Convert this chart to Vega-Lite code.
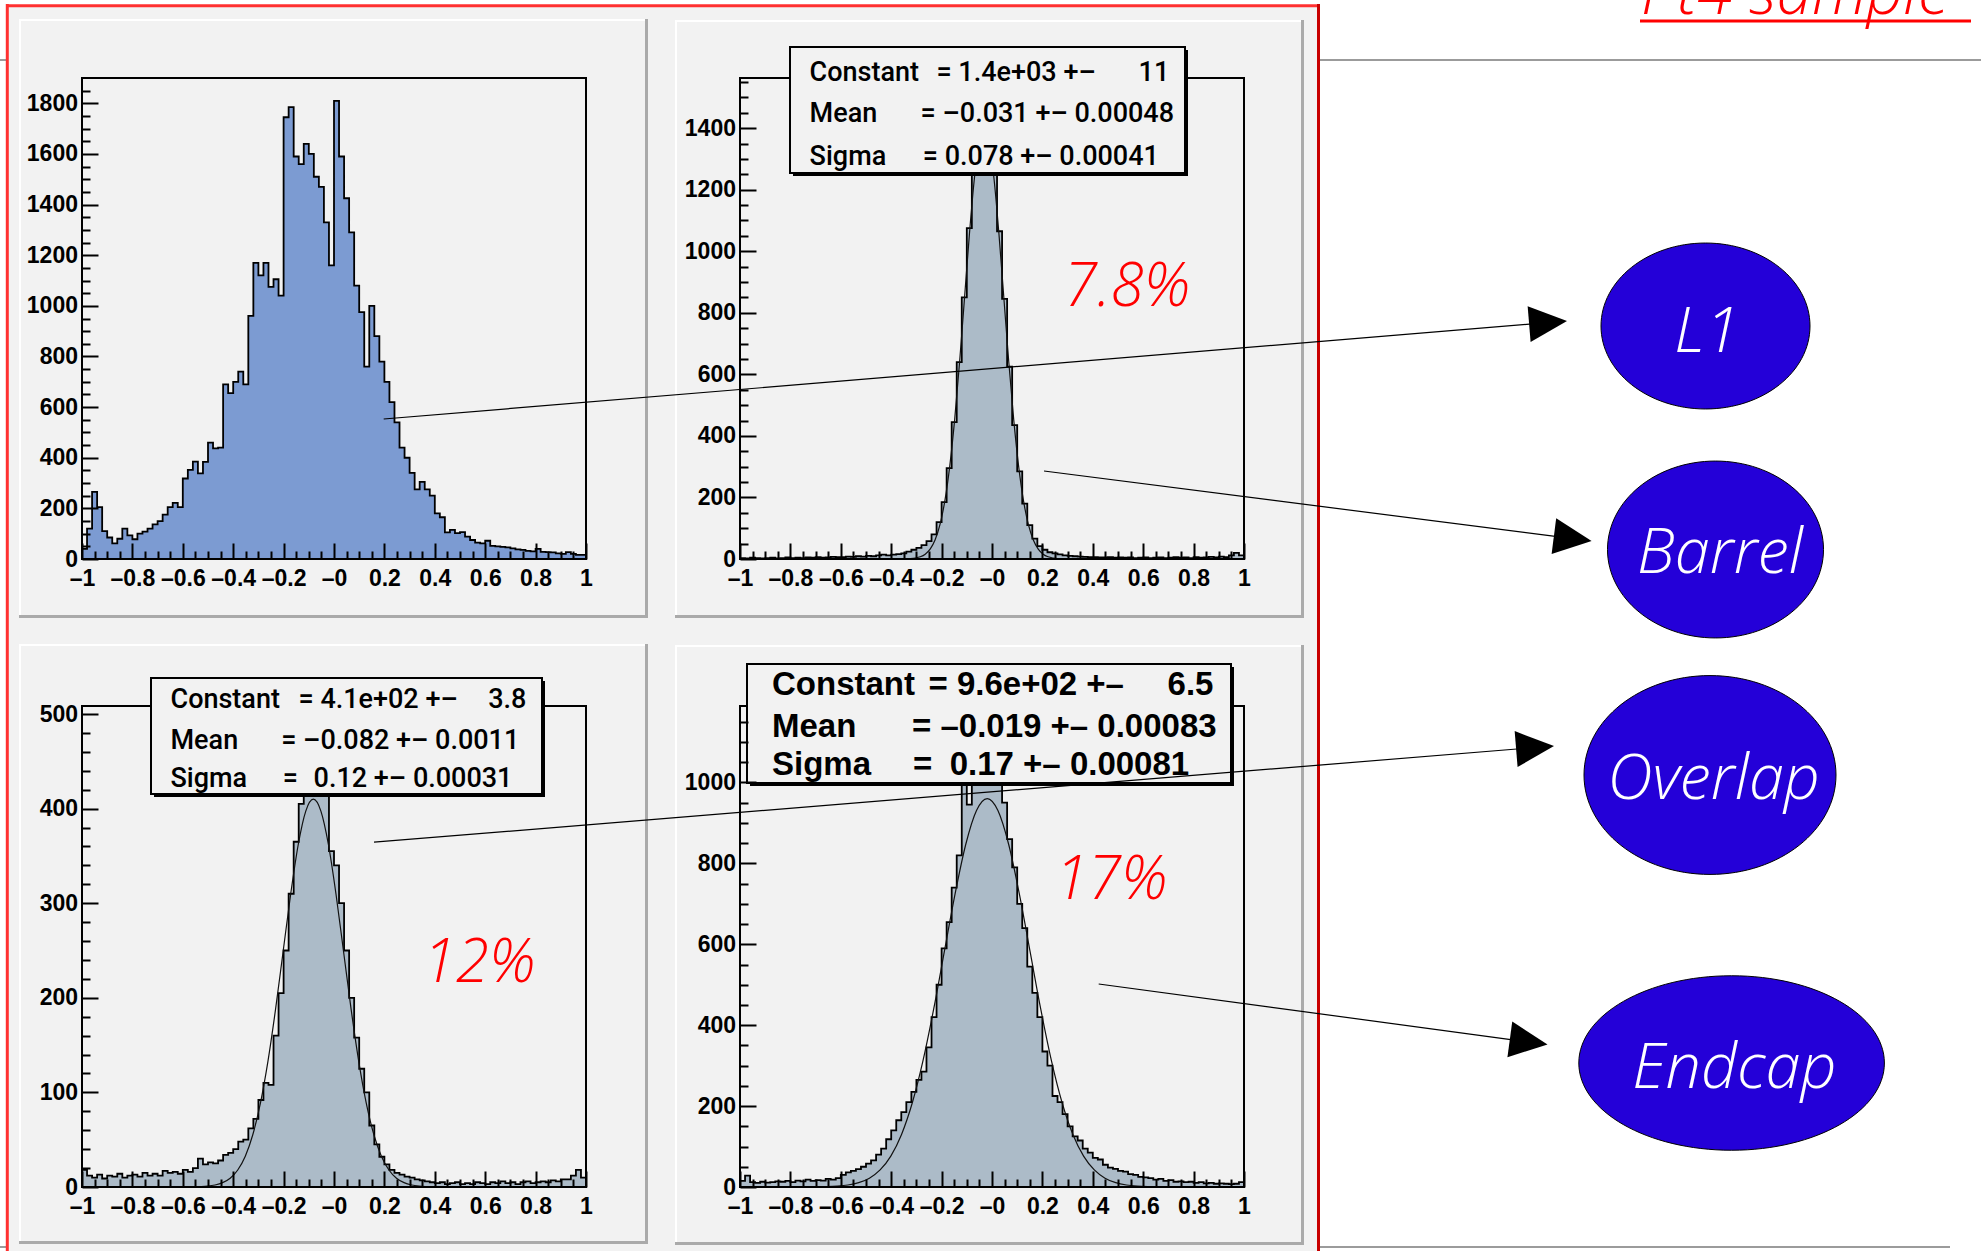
{
"$schema": "https://vega.github.io/schema/vega-lite/v6.json",
"background": "white",
"padding": {"left": -50, "top": -60, "right": 0, "bottom": 0},
"columns": 2,
"spacing": {"row": 147, "column": 154},
"bounds": "flush",
"config": {
  "view": {"stroke": null},
  "axis": {"domain": false, "grid": false, "labelFont": "Liberation Sans", "labelFontSize": 23, "labelFontWeight": "bold", "labelColor": "#000000", "tickColor": "#000000", "tickWidth": 2, "labelOverlap": false, "labelBound": false, "labelFlush": false, "zindex": 1}
},
"datasets": {
  "hTL": [{"x":-1,"y":40},{"x":-0.98,"y":120},{"x":-0.96,"y":265},{"x":-0.94,"y":205},{"x":-0.92,"y":110},{"x":-0.9,"y":85},{"x":-0.88,"y":62},{"x":-0.86,"y":80},{"x":-0.84,"y":120},{"x":-0.82,"y":93},{"x":-0.8,"y":78},{"x":-0.78,"y":100},{"x":-0.76,"y":108},{"x":-0.74,"y":120},{"x":-0.72,"y":137},{"x":-0.7,"y":150},{"x":-0.68,"y":175},{"x":-0.66,"y":205},{"x":-0.64,"y":222},{"x":-0.62,"y":205},{"x":-0.6,"y":318},{"x":-0.58,"y":352},{"x":-0.56,"y":385},{"x":-0.54,"y":338},{"x":-0.52,"y":384},{"x":-0.5,"y":460},{"x":-0.48,"y":437},{"x":-0.46,"y":440},{"x":-0.44,"y":690},{"x":-0.42,"y":655},{"x":-0.4,"y":700},{"x":-0.38,"y":740},{"x":-0.36,"y":690},{"x":-0.34,"y":960},{"x":-0.32,"y":1170},{"x":-0.3,"y":1120},{"x":-0.28,"y":1170},{"x":-0.26,"y":1075},{"x":-0.24,"y":1105},{"x":-0.22,"y":1040},{"x":-0.2,"y":1745},{"x":-0.18,"y":1785},{"x":-0.16,"y":1590},{"x":-0.14,"y":1560},{"x":-0.12,"y":1640},{"x":-0.1,"y":1600},{"x":-0.08,"y":1510},{"x":-0.06,"y":1470},{"x":-0.04,"y":1330},{"x":-0.02,"y":1160},{"x":0,"y":1810},{"x":0.02,"y":1590},{"x":0.04,"y":1425},{"x":0.06,"y":1290},{"x":0.08,"y":1080},{"x":0.1,"y":975},{"x":0.12,"y":760},{"x":0.14,"y":1000},{"x":0.16,"y":880},{"x":0.18,"y":780},{"x":0.2,"y":700},{"x":0.22,"y":620},{"x":0.24,"y":540},{"x":0.26,"y":440},{"x":0.28,"y":400},{"x":0.3,"y":340},{"x":0.32,"y":275},{"x":0.34,"y":305},{"x":0.36,"y":275},{"x":0.38,"y":250},{"x":0.4,"y":180},{"x":0.42,"y":165},{"x":0.44,"y":105},{"x":0.46,"y":115},{"x":0.48,"y":102},{"x":0.5,"y":106},{"x":0.52,"y":88},{"x":0.54,"y":75},{"x":0.56,"y":65},{"x":0.58,"y":62},{"x":0.6,"y":72},{"x":0.62,"y":52},{"x":0.64,"y":50},{"x":0.66,"y":48},{"x":0.68,"y":46},{"x":0.7,"y":42},{"x":0.72,"y":38},{"x":0.74,"y":36},{"x":0.76,"y":32},{"x":0.78,"y":30},{"x":0.8,"y":40},{"x":0.82,"y":28},{"x":0.84,"y":27},{"x":0.86,"y":26},{"x":0.88,"y":22},{"x":0.9,"y":20},{"x":0.92,"y":27},{"x":0.94,"y":20},{"x":0.96,"y":16},{"x":0.98,"y":16},{"x":1,"y":16}],
  "hTR": [{"x":-1,"y":3},{"x":-0.98,"y":2},{"x":-0.96,"y":4},{"x":-0.94,"y":3},{"x":-0.92,"y":2},{"x":-0.9,"y":3},{"x":-0.88,"y":4},{"x":-0.86,"y":2},{"x":-0.84,"y":3},{"x":-0.82,"y":5},{"x":-0.8,"y":3},{"x":-0.78,"y":4},{"x":-0.76,"y":3},{"x":-0.74,"y":5},{"x":-0.72,"y":4},{"x":-0.7,"y":6},{"x":-0.68,"y":4},{"x":-0.66,"y":5},{"x":-0.64,"y":7},{"x":-0.62,"y":6},{"x":-0.6,"y":6},{"x":-0.58,"y":8},{"x":-0.56,"y":7},{"x":-0.54,"y":9},{"x":-0.52,"y":8},{"x":-0.5,"y":10},{"x":-0.48,"y":9},{"x":-0.46,"y":12},{"x":-0.44,"y":14},{"x":-0.42,"y":12},{"x":-0.4,"y":14},{"x":-0.38,"y":16},{"x":-0.36,"y":18},{"x":-0.34,"y":24},{"x":-0.32,"y":30},{"x":-0.3,"y":36},{"x":-0.28,"y":45},{"x":-0.26,"y":58},{"x":-0.24,"y":80},{"x":-0.22,"y":120},{"x":-0.2,"y":185},{"x":-0.18,"y":295},{"x":-0.16,"y":445},{"x":-0.14,"y":640},{"x":-0.12,"y":850},{"x":-0.1,"y":1075},{"x":-0.08,"y":1280},{"x":-0.06,"y":1420},{"x":-0.04,"y":1490},{"x":-0.02,"y":1435},{"x":0,"y":1275},{"x":0.02,"y":1065},{"x":0.04,"y":845},{"x":0.06,"y":625},{"x":0.08,"y":435},{"x":0.1,"y":285},{"x":0.12,"y":180},{"x":0.14,"y":110},{"x":0.16,"y":66},{"x":0.18,"y":42},{"x":0.2,"y":30},{"x":0.22,"y":22},{"x":0.24,"y":18},{"x":0.26,"y":15},{"x":0.28,"y":12},{"x":0.3,"y":10},{"x":0.32,"y":9},{"x":0.34,"y":8},{"x":0.36,"y":7},{"x":0.38,"y":6},{"x":0.4,"y":6},{"x":0.42,"y":5},{"x":0.44,"y":5},{"x":0.46,"y":6},{"x":0.48,"y":4},{"x":0.5,"y":5},{"x":0.52,"y":4},{"x":0.54,"y":5},{"x":0.56,"y":3},{"x":0.58,"y":4},{"x":0.6,"y":5},{"x":0.62,"y":3},{"x":0.64,"y":4},{"x":0.66,"y":5},{"x":0.68,"y":3},{"x":0.7,"y":4},{"x":0.72,"y":6},{"x":0.74,"y":4},{"x":0.76,"y":5},{"x":0.78,"y":3},{"x":0.8,"y":6},{"x":0.82,"y":4},{"x":0.84,"y":5},{"x":0.86,"y":7},{"x":0.88,"y":5},{"x":0.9,"y":8},{"x":0.92,"y":6},{"x":0.94,"y":12},{"x":0.96,"y":20},{"x":0.98,"y":12},{"x":1,"y":12}],
  "hBL": [{"x":-1,"y":18},{"x":-0.98,"y":12},{"x":-0.96,"y":10},{"x":-0.94,"y":13},{"x":-0.92,"y":9},{"x":-0.9,"y":12},{"x":-0.88,"y":11},{"x":-0.86,"y":14},{"x":-0.84,"y":10},{"x":-0.82,"y":12},{"x":-0.8,"y":13},{"x":-0.78,"y":11},{"x":-0.76,"y":15},{"x":-0.74,"y":12},{"x":-0.72,"y":14},{"x":-0.7,"y":12},{"x":-0.68,"y":17},{"x":-0.66,"y":15},{"x":-0.64,"y":16},{"x":-0.62,"y":14},{"x":-0.6,"y":18},{"x":-0.58,"y":16},{"x":-0.56,"y":20},{"x":-0.54,"y":30},{"x":-0.52,"y":24},{"x":-0.5,"y":26},{"x":-0.48,"y":25},{"x":-0.46,"y":28},{"x":-0.44,"y":34},{"x":-0.42,"y":36},{"x":-0.4,"y":40},{"x":-0.38,"y":48},{"x":-0.36,"y":50},{"x":-0.34,"y":62},{"x":-0.32,"y":72},{"x":-0.3,"y":92},{"x":-0.28,"y":110},{"x":-0.26,"y":108},{"x":-0.24,"y":160},{"x":-0.22,"y":205},{"x":-0.2,"y":250},{"x":-0.18,"y":310},{"x":-0.16,"y":365},{"x":-0.14,"y":405},{"x":-0.12,"y":440},{"x":-0.1,"y":470},{"x":-0.08,"y":484},{"x":-0.06,"y":460},{"x":-0.04,"y":415},{"x":-0.02,"y":355},{"x":0,"y":340},{"x":0.02,"y":300},{"x":0.04,"y":250},{"x":0.06,"y":200},{"x":0.08,"y":158},{"x":0.1,"y":125},{"x":0.12,"y":100},{"x":0.14,"y":65},{"x":0.16,"y":45},{"x":0.18,"y":32},{"x":0.2,"y":24},{"x":0.22,"y":18},{"x":0.24,"y":15},{"x":0.26,"y":13},{"x":0.28,"y":11},{"x":0.3,"y":10},{"x":0.32,"y":8},{"x":0.34,"y":7},{"x":0.36,"y":6},{"x":0.38,"y":5},{"x":0.4,"y":4},{"x":0.42,"y":5},{"x":0.44,"y":3},{"x":0.46,"y":4},{"x":0.48,"y":5},{"x":0.5,"y":3},{"x":0.52,"y":4},{"x":0.54,"y":3},{"x":0.56,"y":5},{"x":0.58,"y":4},{"x":0.6,"y":3},{"x":0.62,"y":5},{"x":0.64,"y":4},{"x":0.66,"y":6},{"x":0.68,"y":4},{"x":0.7,"y":5},{"x":0.72,"y":3},{"x":0.74,"y":5},{"x":0.76,"y":6},{"x":0.78,"y":4},{"x":0.8,"y":5},{"x":0.82,"y":6},{"x":0.84,"y":5},{"x":0.86,"y":7},{"x":0.88,"y":6},{"x":0.9,"y":8},{"x":0.92,"y":8},{"x":0.94,"y":12},{"x":0.96,"y":18},{"x":0.98,"y":10},{"x":1,"y":10}],
  "hBR": [{"x":-1,"y":15},{"x":-0.98,"y":28},{"x":-0.96,"y":12},{"x":-0.94,"y":10},{"x":-0.92,"y":13},{"x":-0.9,"y":11},{"x":-0.88,"y":12},{"x":-0.86,"y":14},{"x":-0.84,"y":13},{"x":-0.82,"y":15},{"x":-0.8,"y":12},{"x":-0.78,"y":16},{"x":-0.76,"y":14},{"x":-0.74,"y":18},{"x":-0.72,"y":15},{"x":-0.7,"y":17},{"x":-0.68,"y":16},{"x":-0.66,"y":20},{"x":-0.64,"y":18},{"x":-0.62,"y":22},{"x":-0.6,"y":30},{"x":-0.58,"y":36},{"x":-0.56,"y":40},{"x":-0.54,"y":44},{"x":-0.52,"y":50},{"x":-0.5,"y":58},{"x":-0.48,"y":66},{"x":-0.46,"y":80},{"x":-0.44,"y":95},{"x":-0.42,"y":118},{"x":-0.4,"y":140},{"x":-0.38,"y":165},{"x":-0.36,"y":185},{"x":-0.34,"y":210},{"x":-0.32,"y":235},{"x":-0.3,"y":265},{"x":-0.28,"y":285},{"x":-0.26,"y":345},{"x":-0.24,"y":420},{"x":-0.22,"y":500},{"x":-0.2,"y":590},{"x":-0.18,"y":655},{"x":-0.16,"y":740},{"x":-0.14,"y":820},{"x":-0.12,"y":1060},{"x":-0.1,"y":945},{"x":-0.08,"y":1125},{"x":-0.06,"y":1115},{"x":-0.04,"y":1132},{"x":-0.02,"y":1120},{"x":0,"y":1128},{"x":0.02,"y":1080},{"x":0.04,"y":950},{"x":0.06,"y":860},{"x":0.08,"y":790},{"x":0.1,"y":700},{"x":0.12,"y":640},{"x":0.14,"y":545},{"x":0.16,"y":480},{"x":0.18,"y":420},{"x":0.2,"y":335},{"x":0.22,"y":300},{"x":0.24,"y":225},{"x":0.26,"y":210},{"x":0.28,"y":180},{"x":0.3,"y":150},{"x":0.32,"y":125},{"x":0.34,"y":115},{"x":0.36,"y":95},{"x":0.38,"y":85},{"x":0.4,"y":72},{"x":0.42,"y":68},{"x":0.44,"y":55},{"x":0.46,"y":48},{"x":0.48,"y":45},{"x":0.5,"y":40},{"x":0.52,"y":38},{"x":0.54,"y":32},{"x":0.56,"y":30},{"x":0.58,"y":25},{"x":0.6,"y":24},{"x":0.62,"y":22},{"x":0.64,"y":18},{"x":0.66,"y":20},{"x":0.68,"y":15},{"x":0.7,"y":17},{"x":0.72,"y":13},{"x":0.74,"y":14},{"x":0.76,"y":12},{"x":0.78,"y":13},{"x":0.8,"y":10},{"x":0.82,"y":12},{"x":0.84,"y":9},{"x":0.86,"y":10},{"x":0.88,"y":8},{"x":0.9,"y":9},{"x":0.92,"y":8},{"x":0.94,"y":7},{"x":0.96,"y":8},{"x":0.98,"y":12},{"x":1,"y":12}],
  "fTR": [{"x":-0.343,"y":0.5},{"x":-0.3235,"y":1.2},{"x":-0.304,"y":3.1},{"x":-0.2845,"y":7.1},{"x":-0.265,"y":15.6},{"x":-0.2455,"y":31.9},{"x":-0.226,"y":61.5},{"x":-0.2065,"y":111.4},{"x":-0.187,"y":189.5},{"x":-0.1675,"y":302.8},{"x":-0.148,"y":454.5},{"x":-0.1285,"y":641},{"x":-0.109,"y":849.1},{"x":-0.0895,"y":1056.8},{"x":-0.07,"y":1235.5},{"x":-0.0505,"y":1356.9},{"x":-0.031,"y":1400},{"x":-0.0115,"y":1356.9},{"x":0.008,"y":1235.5},{"x":0.0275,"y":1056.8},{"x":0.047,"y":849.1},{"x":0.0665,"y":641},{"x":0.086,"y":454.5},{"x":0.1055,"y":302.8},{"x":0.125,"y":189.5},{"x":0.1445,"y":111.4},{"x":0.164,"y":61.5},{"x":0.1835,"y":31.9},{"x":0.203,"y":15.6},{"x":0.2225,"y":7.1},{"x":0.242,"y":3.1},{"x":0.2615,"y":1.2},{"x":0.281,"y":0.5}],
  "fBL": [{"x":-0.562,"y":0.1},{"x":-0.532,"y":0.4},{"x":-0.502,"y":0.9},{"x":-0.472,"y":2.1},{"x":-0.442,"y":4.6},{"x":-0.412,"y":9.3},{"x":-0.382,"y":18},{"x":-0.352,"y":32.6},{"x":-0.322,"y":55.5},{"x":-0.292,"y":88.7},{"x":-0.262,"y":133.1},{"x":-0.232,"y":187.7},{"x":-0.202,"y":248.7},{"x":-0.172,"y":309.5},{"x":-0.142,"y":361.8},{"x":-0.112,"y":397.4},{"x":-0.082,"y":410},{"x":-0.052,"y":397.4},{"x":-0.022,"y":361.8},{"x":0.008,"y":309.5},{"x":0.038,"y":248.7},{"x":0.068,"y":187.7},{"x":0.098,"y":133.1},{"x":0.128,"y":88.7},{"x":0.158,"y":55.5},{"x":0.188,"y":32.6},{"x":0.218,"y":18},{"x":0.248,"y":9.3},{"x":0.278,"y":4.6},{"x":0.308,"y":2.1},{"x":0.338,"y":0.9},{"x":0.368,"y":0.4},{"x":0.398,"y":0.1}],
  "fBR": [{"x":-0.699,"y":0.3},{"x":-0.6565,"y":0.8},{"x":-0.614,"y":2.1},{"x":-0.5715,"y":4.9},{"x":-0.529,"y":10.7},{"x":-0.4865,"y":21.9},{"x":-0.444,"y":42.2},{"x":-0.4015,"y":76.4},{"x":-0.359,"y":129.9},{"x":-0.3165,"y":207.6},{"x":-0.274,"y":311.7},{"x":-0.2315,"y":439.5},{"x":-0.189,"y":582.3},{"x":-0.1465,"y":724.6},{"x":-0.104,"y":847.2},{"x":-0.0615,"y":930.5},{"x":-0.019,"y":960},{"x":0.0235,"y":930.5},{"x":0.066,"y":847.2},{"x":0.1085,"y":724.6},{"x":0.151,"y":582.3},{"x":0.1935,"y":439.5},{"x":0.236,"y":311.7},{"x":0.2785,"y":207.6},{"x":0.321,"y":129.9},{"x":0.3635,"y":76.4},{"x":0.406,"y":42.2},{"x":0.4485,"y":21.9},{"x":0.491,"y":10.7},{"x":0.5335,"y":4.9},{"x":0.576,"y":2.1},{"x":0.6185,"y":0.8},{"x":0.661,"y":0.3}]
},
"concat": [
{
  "width": 504, "height": 481,
  "encoding": {
    "x": {"field": "x", "type": "quantitative", "scale": {"domain": [-1, 1], "nice": false, "zero": false},
      "axis": {"title": null, "zindex": 2, "values": [-1,-0.95,-0.9,-0.85,-0.8,-0.75,-0.7,-0.65,-0.6,-0.55,-0.5,-0.45,-0.4,-0.35,-0.3,-0.25,-0.2,-0.15,-0.1,-0.05,0,0.05,0.1,0.15,0.2,0.25,0.3,0.35,0.4,0.45,0.5,0.55,0.6,0.65,0.7,0.75,0.8,0.85,0.9,0.95,1],
        "tickSize": {"condition": {"test": "abs(datum.value*5-round(datum.value*5))<0.001", "value": -16}, "value": -8},
        "labelExpr": "abs(datum.value*5-round(datum.value*5))<0.001 ? (abs(datum.value)<0.001 ? '–0' : (datum.value<0 ? '–'+format(-datum.value,'~g') : format(datum.value,'~g'))) : ''",
        "labelPadding": 24, "labelBaseline": "top"}},
    "y": {"field": "y", "type": "quantitative", "scale": {"domain": [0, 1900], "nice": false, "zero": false},
      "axis": {"title": null, "zindex": 2, "values": [0,50,100,150,200,250,300,350,400,450,500,550,600,650,700,750,800,850,900,950,1000,1050,1100,1150,1200,1250,1300,1350,1400,1450,1500,1550,1600,1650,1700,1750,1800,1850],
        "tickSize": {"condition": {"test": "datum.value % 200 == 0", "value": -16}, "value": -8},
        "labelExpr": "datum.value % 200 == 0 ? format(datum.value,'d') : ''", "labelPadding": 20.5}}
  },
  "layer": [
    {"data": {"values": [{"x": -1.5238, "x2": -1.52, "y": 2445.08, "y2": 2440}]}, "mark": {"type": "rect", "opacity": 0}, "encoding": {"x2": {"field": "x2"}, "y2": {"field": "y2"}}},
    {"data": {"values": [{"x": -1.325397, "x2": 6.535714, "y": 1971.1, "y2": 1971.1}, {"x": -1.325397, "x2": 6.412698, "y": -2717.67, "y2": -2717.67}]}, "mark": {"type": "rule", "color": "#7a7a7a", "strokeWidth": 1.5}, "encoding": {"x2": {"field": "x2"}, "y2": {"field": "y2"}}},
    {"data": {"values": [{"x": -1.301587, "x2": 3.90873, "y": 2188.36, "y2": -2753.22}]}, "mark": {"type": "rect", "color": "#f2f2f2", "opacity": 1}, "encoding": {"x2": {"field": "x2"}, "y2": {"field": "y2"}}},
    {"data": {"values": [{"x": -1.296429, "x2": -1.296429, "y": 2192.31, "y2": -2753.22}, {"x": -1.301587, "x2": 3.912698, "y": 2185.2, "y2": 2185.2}]}, "mark": {"type": "rule", "color": "#ff3030", "strokeWidth": 3}, "encoding": {"x2": {"field": "x2"}, "y2": {"field": "y2"}}},
    {"data": {"values": [{"x": 3.906746, "x2": 3.906746, "y": 2192.31, "y2": -2753.22}]}, "mark": {"type": "rule", "color": "#c80000", "strokeWidth": 3}, "encoding": {"x2": {"field": "x2"}, "y2": {"field": "y2"}}},
    {"data": {"values": [{"x": -1.25, "x2": 1.246032, "y": 2133.06, "y2": -233.06}]}, "mark": {"type": "rect", "color": "#aaaaaa", "opacity": 1}, "encoding": {"x2": {"field": "x2"}, "y2": {"field": "y2"}}},
    {"data": {"values": [{"x": -1.25, "x2": 1.234127, "y": 2133.06, "y2": -221.21}]}, "mark": {"type": "rect", "color": "#ffffff", "opacity": 1}, "encoding": {"x2": {"field": "x2"}, "y2": {"field": "y2"}}},
    {"data": {"values": [{"x": -1.242063, "x2": 1.234127, "y": 2125.16, "y2": -221.21}]}, "mark": {"type": "rect", "color": "#f2f2f2", "opacity": 1}, "encoding": {"x2": {"field": "x2"}, "y2": {"field": "y2"}}},
    {"data": {"name": "hTL"}, "mark": {"type": "area", "interpolate": "step-after", "color": "#7c9bd2", "opacity": 1}},
    {"data": {"name": "hTL"}, "mark": {"type": "line", "interpolate": "step-after", "color": "#000000", "strokeWidth": 1.8}},
    {"data": {"values": [{"x": -1, "x2": 1, "y": 0, "y2": 1900}]}, "mark": {"type": "rect", "fill": null, "stroke": "#000000", "strokeWidth": 2}, "encoding": {"x2": {"field": "x2"}, "y2": {"field": "y2"}}}
  ]
},
{
  "width": 504, "height": 481,
  "encoding": {
    "x": {"field": "x", "type": "quantitative", "scale": {"domain": [-1, 1], "nice": false, "zero": false},
      "axis": {"title": null, "zindex": 2, "values": [-1,-0.95,-0.9,-0.85,-0.8,-0.75,-0.7,-0.65,-0.6,-0.55,-0.5,-0.45,-0.4,-0.35,-0.3,-0.25,-0.2,-0.15,-0.1,-0.05,0,0.05,0.1,0.15,0.2,0.25,0.3,0.35,0.4,0.45,0.5,0.55,0.6,0.65,0.7,0.75,0.8,0.85,0.9,0.95,1],
        "tickSize": {"condition": {"test": "abs(datum.value*5-round(datum.value*5))<0.001", "value": -16}, "value": -8},
        "labelExpr": "abs(datum.value*5-round(datum.value*5))<0.001 ? (abs(datum.value)<0.001 ? '–0' : (datum.value<0 ? '–'+format(-datum.value,'~g') : format(datum.value,'~g'))) : ''",
        "labelPadding": 24, "labelBaseline": "top"}},
    "y": {"field": "y", "type": "quantitative", "scale": {"domain": [0, 1563], "nice": false, "zero": false},
      "axis": {"title": null, "zindex": 2, "values": [0,50,100,150,200,250,300,350,400,450,500,550,600,650,700,750,800,850,900,950,1000,1050,1100,1150,1200,1250,1300,1350,1400,1450,1500,1550],
        "tickSize": {"condition": {"test": "datum.value % 200 == 0", "value": -16}, "value": -8},
        "labelExpr": "datum.value % 200 == 0 ? format(datum.value,'d') : ''", "labelPadding": 20.5}}
  },
  "layer": [
    {"data": {"values": [{"x": -1.257937, "x2": 1.238095, "y": 1751.47, "y2": -191.72}]}, "mark": {"type": "rect", "color": "#aaaaaa", "opacity": 1}, "encoding": {"x2": {"field": "x2"}, "y2": {"field": "y2"}}},
    {"data": {"values": [{"x": -1.257937, "x2": 1.22619, "y": 1751.47, "y2": -181.97}]}, "mark": {"type": "rect", "color": "#ffffff", "opacity": 1}, "encoding": {"x2": {"field": "x2"}, "y2": {"field": "y2"}}},
    {"data": {"values": [{"x": -1.25, "x2": 1.22619, "y": 1744.97, "y2": -181.97}]}, "mark": {"type": "rect", "color": "#f2f2f2", "opacity": 1}, "encoding": {"x2": {"field": "x2"}, "y2": {"field": "y2"}}},
    {"data": {"name": "hTR"}, "mark": {"type": "area", "interpolate": "step-after", "color": "#acbbc8", "opacity": 1}},
    {"data": {"name": "hTR"}, "mark": {"type": "line", "interpolate": "step-after", "color": "#000000", "strokeWidth": 1.8}},
    {"data": {"name": "fTR"}, "mark": {"type": "line", "interpolate": "monotone", "color": "#111111", "strokeWidth": 1.2}},
    {"data": {"values": [{"x": -1, "x2": 1, "y": 0, "y2": 1563}]}, "mark": {"type": "rect", "fill": null, "stroke": "#000000", "strokeWidth": 2}, "encoding": {"x2": {"field": "x2"}, "y2": {"field": "y2"}}},
    {"data": {"values": [{"x": -0.789683, "x2": 0.777778, "y": 1653.99, "y2": 1244.55}]}, "mark": {"type": "rect", "color": "#000000", "opacity": 1}, "encoding": {"x2": {"field": "x2"}, "y2": {"field": "y2"}}},
    {"data": {"values": [{"x": -0.801587, "x2": 0.765873, "y": 1663.73, "y2": 1254.3}]}, "mark": {"type": "rect", "fill": "#f2f2f2", "stroke": "#000000", "strokeWidth": 2, "opacity": 1}, "encoding": {"x2": {"field": "x2"}, "y2": {"field": "y2"}}},
    {"data": {"values": [{"x": -0.72381, "y": 1552.6, "t": "Constant"}, {"x": -0.220349, "y": 1552.6, "t": "= 1.4e+03 +–"}, {"x": 0.581746, "y": 1552.6, "t": "11"}, {"x": -0.72381, "y": 1418.4, "t": "Mean"}, {"x": -0.283333, "y": 1418.4, "t": "= –0.031 +– 0.00048"}, {"x": -0.72381, "y": 1281.27, "t": "Sigma"}, {"x": -0.274603, "y": 1281.27, "t": "= 0.078 +– 0.00041"}]},
     "mark": {"type": "text", "align": "left", "baseline": "alphabetic", "font": "Roboto", "fontWeight": 500, "fontSize": 27, "color": "#000000"}, "encoding": {"text": {"field": "t"}}},
    {"data": {"values": [{"x": 0.285714, "y": 822.12, "t": "7.8%"}]}, "mark": {"type": "text", "align": "left", "baseline": "alphabetic", "font": "Open Sans", "fontStyle": "italic", "fontWeight": 300, "fontSize": 60, "color": "#ff0000"}, "encoding": {"text": {"field": "t"}}}
  ]
},
{
  "width": 504, "height": 481,
  "encoding": {
    "x": {"field": "x", "type": "quantitative", "scale": {"domain": [-1, 1], "nice": false, "zero": false},
      "axis": {"title": null, "zindex": 2, "values": [-1,-0.95,-0.9,-0.85,-0.8,-0.75,-0.7,-0.65,-0.6,-0.55,-0.5,-0.45,-0.4,-0.35,-0.3,-0.25,-0.2,-0.15,-0.1,-0.05,0,0.05,0.1,0.15,0.2,0.25,0.3,0.35,0.4,0.45,0.5,0.55,0.6,0.65,0.7,0.75,0.8,0.85,0.9,0.95,1],
        "tickSize": {"condition": {"test": "abs(datum.value*5-round(datum.value*5))<0.001", "value": -16}, "value": -8},
        "labelExpr": "abs(datum.value*5-round(datum.value*5))<0.001 ? (abs(datum.value)<0.001 ? '–0' : (datum.value<0 ? '–'+format(-datum.value,'~g') : format(datum.value,'~g'))) : ''",
        "labelPadding": 24, "labelBaseline": "top"}},
    "y": {"field": "y", "type": "quantitative", "scale": {"domain": [0, 508.5], "nice": false, "zero": false},
      "axis": {"title": null, "zindex": 2, "values": [0,20,40,60,80,100,120,140,160,180,200,220,240,260,280,300,320,340,360,380,400,420,440,460,480,500],
        "tickSize": {"condition": {"test": "datum.value % 100 == 0", "value": -16}, "value": -8},
        "labelExpr": "datum.value % 100 == 0 ? format(datum.value,'d') : ''", "labelPadding": 20.5}}
  },
  "layer": [
    {"data": {"values": [{"x": -1.25, "x2": 1.246032, "y": 574.04, "y2": -60.26}]}, "mark": {"type": "rect", "color": "#aaaaaa", "opacity": 1}, "encoding": {"x2": {"field": "x2"}, "y2": {"field": "y2"}}},
    {"data": {"values": [{"x": -1.25, "x2": 1.234127, "y": 574.04, "y2": -57.09}]}, "mark": {"type": "rect", "color": "#ffffff", "opacity": 1}, "encoding": {"x2": {"field": "x2"}, "y2": {"field": "y2"}}},
    {"data": {"values": [{"x": -1.242063, "x2": 1.234127, "y": 571.93, "y2": -57.09}]}, "mark": {"type": "rect", "color": "#f2f2f2", "opacity": 1}, "encoding": {"x2": {"field": "x2"}, "y2": {"field": "y2"}}},
    {"data": {"name": "hBL"}, "mark": {"type": "area", "interpolate": "step-after", "color": "#acbbc8", "opacity": 1}},
    {"data": {"name": "hBL"}, "mark": {"type": "line", "interpolate": "step-after", "color": "#000000", "strokeWidth": 1.8}},
    {"data": {"name": "fBL"}, "mark": {"type": "line", "interpolate": "monotone", "color": "#111111", "strokeWidth": 1.2}},
    {"data": {"values": [{"x": -1, "x2": 1, "y": 0, "y2": 508.5}]}, "mark": {"type": "rect", "fill": null, "stroke": "#000000", "strokeWidth": 2}, "encoding": {"x2": {"field": "x2"}, "y2": {"field": "y2"}}},
    {"data": {"values": [{"x": -0.714286, "x2": 0.837302, "y": 534.93, "y2": 412.3}]}, "mark": {"type": "rect", "color": "#000000", "opacity": 1}, "encoding": {"x2": {"field": "x2"}, "y2": {"field": "y2"}}},
    {"data": {"values": [{"x": -0.72619, "x2": 0.825397, "y": 538.1, "y2": 415.47}]}, "mark": {"type": "rect", "fill": "#f2f2f2", "stroke": "#000000", "strokeWidth": 2, "opacity": 1}, "encoding": {"x2": {"field": "x2"}, "y2": {"field": "y2"}}},
    {"data": {"values": [{"x": -0.64881, "y": 505.86, "t": "Constant"}, {"x": -0.140952, "y": 505.86, "t": "= 4.1e+02 +–"}, {"x": 0.611905, "y": 505.86, "t": "3.8"}, {"x": -0.64881, "y": 463.25, "t": "Mean"}, {"x": -0.209524, "y": 463.25, "t": "= –0.082 +– 0.0011"}, {"x": -0.64881, "y": 422.87, "t": "Sigma"}, {"x": -0.203175, "y": 422.87, "t": "="}, {"x": -0.080952, "y": 422.87, "t": "0.12 +– 0.00031"}]},
     "mark": {"type": "text", "align": "left", "baseline": "alphabetic", "font": "Roboto", "fontWeight": 500, "fontSize": 27, "color": "#000000"}, "encoding": {"text": {"field": "t"}}},
    {"data": {"values": [{"x": 0.353175, "y": 216.72, "t": "12%"}]}, "mark": {"type": "text", "align": "left", "baseline": "alphabetic", "font": "Open Sans", "fontStyle": "italic", "fontWeight": 300, "fontSize": 60, "color": "#ff0000"}, "encoding": {"text": {"field": "t"}}}
  ]
},
{
  "width": 504, "height": 481,
  "encoding": {
    "x": {"field": "x", "type": "quantitative", "scale": {"domain": [-1, 1], "nice": false, "zero": false},
      "axis": {"title": null, "zindex": 2, "values": [-1,-0.95,-0.9,-0.85,-0.8,-0.75,-0.7,-0.65,-0.6,-0.55,-0.5,-0.45,-0.4,-0.35,-0.3,-0.25,-0.2,-0.15,-0.1,-0.05,0,0.05,0.1,0.15,0.2,0.25,0.3,0.35,0.4,0.45,0.5,0.55,0.6,0.65,0.7,0.75,0.8,0.85,0.9,0.95,1],
        "tickSize": {"condition": {"test": "abs(datum.value*5-round(datum.value*5))<0.001", "value": -16}, "value": -8},
        "labelExpr": "abs(datum.value*5-round(datum.value*5))<0.001 ? (abs(datum.value)<0.001 ? '–0' : (datum.value<0 ? '–'+format(-datum.value,'~g') : format(datum.value,'~g'))) : ''",
        "labelPadding": 24, "labelBaseline": "top"}},
    "y": {"field": "y", "type": "quantitative", "scale": {"domain": [0, 1189], "nice": false, "zero": false},
      "axis": {"title": null, "zindex": 2, "values": [0,50,100,150,200,250,300,350,400,450,500,550,600,650,700,750,800,850,900,950,1000,1050,1100,1150],
        "tickSize": {"condition": {"test": "datum.value % 200 == 0", "value": -16}, "value": -8},
        "labelExpr": "datum.value % 200 == 0 ? format(datum.value,'d') : ''", "labelPadding": 20.5}}
  },
  "layer": [
    {"data": {"values": [{"x": -1.257937, "x2": 1.238095, "y": 1339.79, "y2": -143.37}]}, "mark": {"type": "rect", "color": "#aaaaaa", "opacity": 1}, "encoding": {"x2": {"field": "x2"}, "y2": {"field": "y2"}}},
    {"data": {"values": [{"x": -1.257937, "x2": 1.22619, "y": 1339.79, "y2": -135.96}]}, "mark": {"type": "rect", "color": "#ffffff", "opacity": 1}, "encoding": {"x2": {"field": "x2"}, "y2": {"field": "y2"}}},
    {"data": {"values": [{"x": -1.25, "x2": 1.22619, "y": 1334.84, "y2": -135.96}]}, "mark": {"type": "rect", "color": "#f2f2f2", "opacity": 1}, "encoding": {"x2": {"field": "x2"}, "y2": {"field": "y2"}}},
    {"data": {"name": "hBR"}, "mark": {"type": "area", "interpolate": "step-after", "color": "#acbbc8", "opacity": 1}},
    {"data": {"name": "hBR"}, "mark": {"type": "line", "interpolate": "step-after", "color": "#000000", "strokeWidth": 1.8}},
    {"data": {"name": "fBR"}, "mark": {"type": "line", "interpolate": "monotone", "color": "#111111", "strokeWidth": 1.2}},
    {"data": {"values": [{"x": -1, "x2": 1, "y": 0, "y2": 1189}]}, "mark": {"type": "rect", "fill": null, "stroke": "#000000", "strokeWidth": 2}, "encoding": {"x2": {"field": "x2"}, "y2": {"field": "y2"}}},
    {"data": {"values": [{"x": -0.960317, "x2": 0.960317, "y": 1285.41, "y2": 991.25}]}, "mark": {"type": "rect", "color": "#000000", "opacity": 1}, "encoding": {"x2": {"field": "x2"}, "y2": {"field": "y2"}}},
    {"data": {"values": [{"x": -0.972222, "x2": 0.948413, "y": 1292.82, "y2": 998.66}]}, "mark": {"type": "rect", "fill": "#f2f2f2", "stroke": "#000000", "strokeWidth": 2, "opacity": 1}, "encoding": {"x2": {"field": "x2"}, "y2": {"field": "y2"}}},
    {"data": {"values": [{"x": -0.873016, "y": 1215.7, "t": "Constant"}, {"x": -0.252143, "y": 1215.7, "t": "= 9.6e+02 +–"}, {"x": 0.696825, "y": 1215.7, "t": "6.5"}, {"x": -0.873016, "y": 1113.11, "t": "Mean"}, {"x": -0.31746, "y": 1113.11, "t": "= –0.019 +– 0.00083"}, {"x": -0.873016, "y": 1018.68, "t": "Sigma"}, {"x": -0.313492, "y": 1018.68, "t": "="}, {"x": -0.167857, "y": 1018.68, "t": "0.17 +– 0.00081"}]},
     "mark": {"type": "text", "align": "left", "baseline": "alphabetic", "font": "Liberation Sans", "fontSize": 33, "fontWeight": "bold", "color": "#000000"}, "encoding": {"text": {"field": "t"}}},
    {"data": {"values": [{"x": 0.25, "y": 713.15, "t": "17%"}]}, "mark": {"type": "text", "align": "left", "baseline": "alphabetic", "font": "Open Sans", "fontStyle": "italic", "fontWeight": 300, "fontSize": 60, "color": "#ff0000"}, "encoding": {"text": {"field": "t"}}},
    {"data": {"values": [{"target": "L1", "x": -2.413889, "y": 1898.45, "x2": 2.174603, "y2": 2135.26}, {"target": "Barrel", "x": 0.206349, "y": 1769.9, "x2": 2.27381, "y2": 1605.27}, {"target": "Overlap", "x": -2.452381, "y": 852.32, "x2": 2.126984, "y2": 1084.93}, {"target": "Endcap", "x": 0.423413, "y": 501.8, "x2": 2.095238, "y2": 361.4}]},
     "mark": {"type": "rule", "color": "#000000", "strokeWidth": 1.2}, "encoding": {"x2": {"field": "x2"}, "y2": {"field": "y2"}}},
    {"data": {"values": [{"target": "L1", "x": 2.281746, "y": 2140.69}]}, "mark": {"type": "point", "shape": "M0 0L-2 -0.95L-2 0.95Z", "size": 1444, "angle": 355.27, "filled": true, "color": "#000000", "opacity": 1}},
    {"data": {"values": [{"target": "Barrel", "x": 2.379365, "y": 1596.87}]}, "mark": {"type": "point", "shape": "M0 0L-2 -0.95L-2 0.95Z", "size": 1444, "angle": 7.29, "filled": true, "color": "#000000", "opacity": 1}},
    {"data": {"values": [{"target": "Overlap", "x": 2.230159, "y": 1090.12}]}, "mark": {"type": "point", "shape": "M0 0L-2 -0.95L-2 0.95Z", "size": 1444, "angle": 355.34, "filled": true, "color": "#000000", "opacity": 1}},
    {"data": {"values": [{"target": "Endcap", "x": 2.204365, "y": 352.25}]}, "mark": {"type": "point", "shape": "M0 0L-2 -0.95L-2 0.95Z", "size": 1444, "angle": 7.68, "filled": true, "color": "#000000", "opacity": 1}},
    {"data": {"values": [{"label": "L1", "x": 2.831349, "y": 2128.33}]}, "mark": {"type": "point", "shape": "M-1 0C-1 -0.4385 -0.5523 -0.794 0 -0.794C0.5523 -0.794 1 -0.4385 1 0C1 0.4385 0.5523 0.794 0 0.794C-0.5523 0.794 -1 0.4385 -1 0Z", "size": 43681, "filled": true, "fill": "#2400d8", "stroke": "#000000", "strokeWidth": 1, "opacity": 1}},
    {"data": {"values": [{"label": "Barrel", "x": 2.871032, "y": 1575.86}]}, "mark": {"type": "point", "shape": "M-1 0C-1 -0.4523 -0.5523 -0.819 0 -0.819C0.5523 -0.819 1 -0.4523 1 0C1 0.4523 0.5523 0.819 0 0.819C-0.5523 0.819 -1 0.4523 -1 0Z", "size": 46656, "filled": true, "fill": "#2400d8", "stroke": "#000000", "strokeWidth": 1, "opacity": 1}},
    {"data": {"values": [{"label": "Overlap", "x": 2.849206, "y": 1018.44}]}, "mark": {"type": "point", "shape": "M-1 0C-1 -0.4358 -0.5523 -0.789 0 -0.789C0.5523 -0.789 1 -0.4358 1 0C1 0.4358 0.5523 0.789 0 0.789C-0.5523 0.789 -1 0.4358 -1 0Z", "size": 63504, "filled": true, "fill": "#2400d8", "stroke": "#000000", "strokeWidth": 1, "opacity": 1}},
    {"data": {"values": [{"label": "Endcap", "x": 2.934921, "y": 306.52}]}, "mark": {"type": "point", "shape": "M-1 0C-1 -0.3154 -0.5523 -0.571 0 -0.571C0.5523 -0.571 1 -0.3154 1 0C1 0.3154 0.5523 0.571 0 0.571C-0.5523 0.571 -1 0.3154 -1 0Z", "size": 93391, "filled": true, "fill": "#2400d8", "stroke": "#000000", "strokeWidth": 1, "opacity": 1}},
    {"data": {"values": [{"x": 2.837302, "y": 2065.3, "t": "L1"}, {"x": 2.888889, "y": 1517.77, "t": "Barrel"}, {"x": 2.863095, "y": 959.11, "t": "Overlap"}, {"x": 2.946032, "y": 244.72, "t": "Endcap"}]},
     "mark": {"type": "text", "align": "center", "baseline": "alphabetic", "font": "Open Sans", "fontStyle": "italic", "fontWeight": 300, "fontSize": 63, "color": "#ffffff"}, "encoding": {"text": {"field": "t"}}},
    {"data": {"values": [{"x": 2.575397, "y": 2899.58, "t": "Pt4 sample"}]}, "mark": {"type": "text", "align": "left", "baseline": "alphabetic", "font": "Open Sans", "fontStyle": "italic", "fontWeight": 300, "fontSize": 64, "color": "#ff0000"}, "encoding": {"text": {"field": "t"}}},
    {"data": {"values": [{"x": 2.571429, "x2": 3.884921, "y": 2882.27, "y2": 2882.27}]}, "mark": {"type": "rule", "color": "#ff0000", "strokeWidth": 3}, "encoding": {"x2": {"field": "x2"}, "y2": {"field": "y2"}}}
  ]
}
]
}
